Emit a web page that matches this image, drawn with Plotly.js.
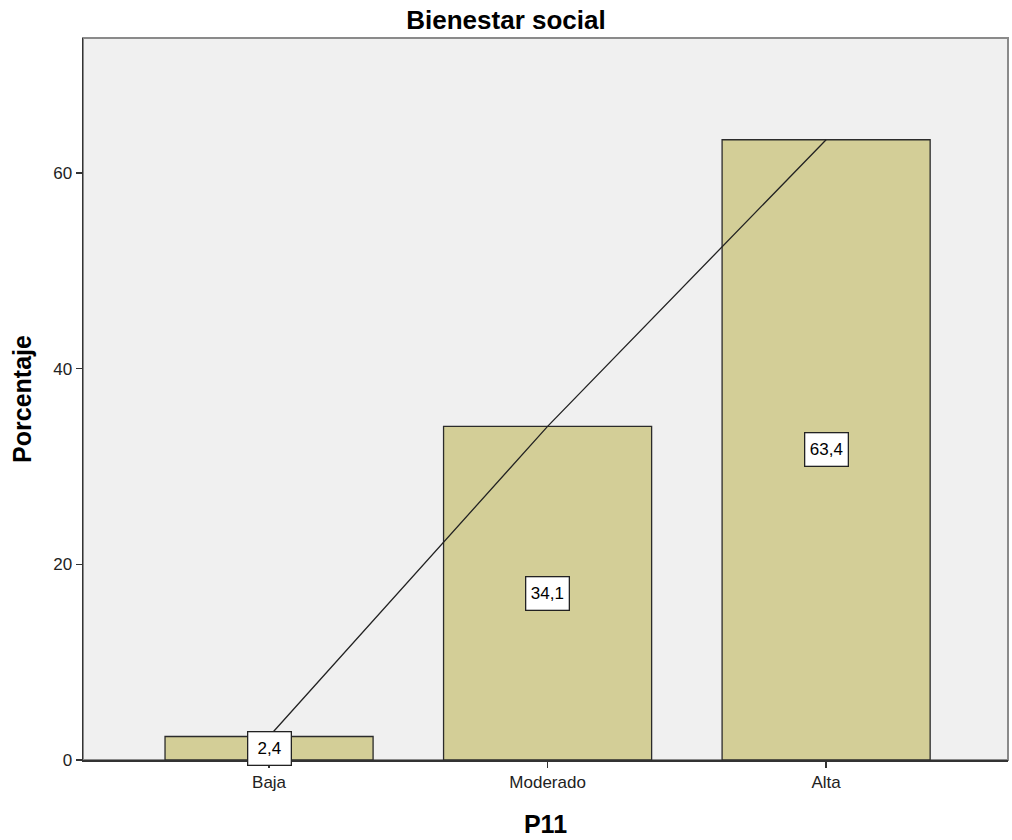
<!DOCTYPE html>
<html><head><meta charset="utf-8">
<script src="https://cdn.plot.ly/plotly-3.0.1.min.js"></script>
<style>body{margin:0;background:#fff}#chart{width:1012px;height:840px}</style>
</head><body><div id="chart"></div>
<script>
const categories = ["Baja", "Moderado", "Alta"];
const percentages = [2.4, 34.1, 63.4];
const valueLabels = ["2,4", "34,1", "63,4"];
const yTicks = [0, 20, 40, 60];

const font = "Liberation Sans, Arial, sans-serif";

const bars = {
  type: "bar", x: categories, y: percentages, width: 0.747,
  marker: {color: "#d3ce97", line: {color: "#2b2b2b", width: 1.3}},
  hoverinfo: "x+y", showlegend: false
};
const line = {
  type: "scatter", mode: "lines", x: categories, y: percentages,
  line: {color: "#222", width: 1.3}, hoverinfo: "skip", showlegend: false
};

const annotations = categories.map((c, i) => ({
  x: c, y: percentages[i] / 2, xref: "x", yref: "y", text: valueLabels[i],
  showarrow: false, bgcolor: "#ffffff", bordercolor: "#222", borderwidth: 1.3,
  borderpad: 2, width: 38, height: 28,
  font: {family: font, size: 17, color: "#000"}
}));

const layout = {
  width: 1012, height: 840,
  margin: {l: 83, r: 4, t: 38, b: 80},
  paper_bgcolor: "#ffffff", plot_bgcolor: "#f0f0f0",
  title: {text: "Bienestar social", font: {family: font, size: 26, color: "#000", weight: "bold"},
    x: 0.5, xref: "container", xanchor: "center", y: 1 - 20 / 840, yref: "container", yanchor: "middle"},
  xaxis: {
    type: "category", range: [-0.668, 2.653], showgrid: false, zeroline: false,
    showline: true, linecolor: "#333", linewidth: 1.5,
    ticks: "outside", ticklen: 6, tickwidth: 1.3, tickcolor: "#333",
    tickfont: {family: font, size: 17, color: "#222"},
    title: {text: "P11", font: {family: font, size: 25, color: "#000", weight: "bold"}, standoff: 24}
  },
  yaxis: {
    range: [0, 73.8], tickvals: yTicks, showgrid: false, zeroline: false,
    showline: true, linecolor: "#333", linewidth: 1.5,
    ticks: "outside", ticklen: 6, tickwidth: 1.3, tickcolor: "#333",
    tickfont: {family: font, size: 17, color: "#222"},
    title: {text: "Porcentaje", font: {family: font, size: 25, color: "#000", weight: "bold"}, standoff: 14}
  },
  shapes: [{type: "rect", xref: "paper", yref: "paper", x0: 0, x1: 1, y0: 0, y1: 1,
    line: {color: "#8a8a8a", width: 2}, layer: "below"}],
  annotations: annotations
};

Plotly.newPlot("chart", [bars, line], layout, {displayModeBar: false, staticPlot: true});
</script></body></html>
